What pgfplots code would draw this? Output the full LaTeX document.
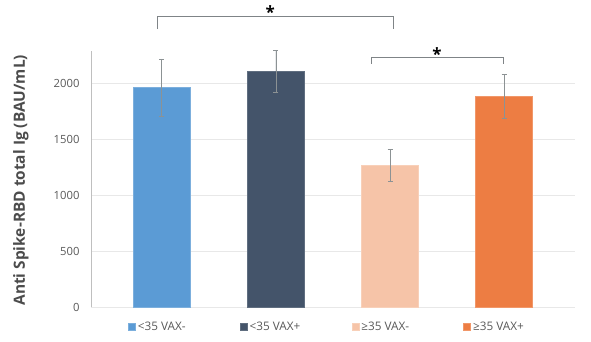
\documentclass[border=0pt]{standalone}
\usepackage{fontspec}
\setmainfont{Open Sans}
\usepackage{pgfplots}
\pgfplotsset{compat=1.18}
\definecolor{c1}{HTML}{5B9BD5}
\definecolor{c2}{HTML}{44546A}
\definecolor{c3}{HTML}{F6C4A8}
\definecolor{c4}{HTML}{ED7D43}
\definecolor{gridc}{HTML}{E8E8E8}
\definecolor{spinec}{HTML}{BFBFBF}
\definecolor{txt}{HTML}{595959}
\definecolor{errc}{HTML}{8C9294}
\definecolor{brc}{HTML}{7F8487}
\begin{document}
\begin{tikzpicture}
\path[use as bounding box] (0bp,0bp) rectangle (591bp,342bp);
\begin{axis}[
  at={(91bp,35bp)}, anchor=south west,
  scale only axis, width=484bp, height=256bp,
  xmin=-0.62, xmax=3.62, ymin=0, ymax=2286,
  ybar, bar width=0.5,
  clip=false,
  axis x line=bottom, axis y line=left,
  x axis line style={draw=gridc, line width=1bp, -},
  y axis line style={draw=spinec, line width=1bp, -},
  xtick=\empty,
  ytick={0,500,1000,1500,2000},
  ymajorgrids, grid style={draw=gridc, line width=1bp},
  major tick length=0pt,
  /pgf/number format/assume math mode=true,
  /pgf/number format/1000 sep={},
  yticklabel style={font=\fontsize{11.3}{13}\selectfont, text=txt, xshift=-8bp},
  ylabel={Anti Spike-RBD total Ig (BAU/mL)},
  every axis y label/.style={at={(axis description cs:-0.145,0.495)}, rotate=90, anchor=center,
     font=\bfseries\fontsize{15.5}{17}\selectfont, text=txt!85!black},
  legend columns=4,
  legend style={draw=none, fill=none, at={(0.07,-0.078)}, anchor=west,
     font=\fontsize{11.8}{13}\selectfont, text=txt,
     /tikz/every even column/.append style={column sep=0bp}},
  legend image code/.code={\fill[#1] (0bp,-3.5bp) rectangle (7bp,3.5bp);},
  error bars/y dir=both, error bars/y explicit,
  error bars/error bar style={draw=errc, line width=0.8bp},
  error bars/error mark options={draw=errc, rotate=90, mark size=2.5bp, line width=0.8bp},
]
\addplot[fill=c1, draw=c1!80!white, line width=0.8bp, bar shift=0] coordinates {(0,1960) +- (0,255)};
\addlegendentry{\makebox[100bp][l]{<35 VAX-}}
\addplot[fill=c2, draw=c2!85!white, line width=0.8bp, bar shift=0] coordinates {(1,2104) +- (0,190)};
\addlegendentry{\makebox[100bp][l]{<35 VAX+}}
\addplot[fill=c3, draw=c3!80!white, line width=0.8bp, bar shift=0] coordinates {(2,1262) +- (0,142)};
\addlegendentry{\makebox[100bp][l]{≥35 VAX-}}
\addplot[fill=c4, draw=c4!80!white, line width=0.8bp, bar shift=0] coordinates {(3,1881) +- (0,195)};
\addlegendentry{≥35 VAX+}
\draw[brc, line width=0.9bp] (axis cs:-0.042,2482) |- (axis cs:2.028,2592) -- (axis cs:2.028,2482);
\draw[brc, line width=0.9bp] (axis cs:1.835,2170) |- (axis cs:2.99,2229) -- (axis cs:2.99,2170);
\node[font=\bfseries\fontsize{17}{17}\selectfont, text=black] at (axis cs:0.95,2630) {*};
\node[font=\bfseries\fontsize{17}{17}\selectfont, text=black] at (axis cs:2.41,2255) {*};
\end{axis}
\end{tikzpicture}
\end{document}
